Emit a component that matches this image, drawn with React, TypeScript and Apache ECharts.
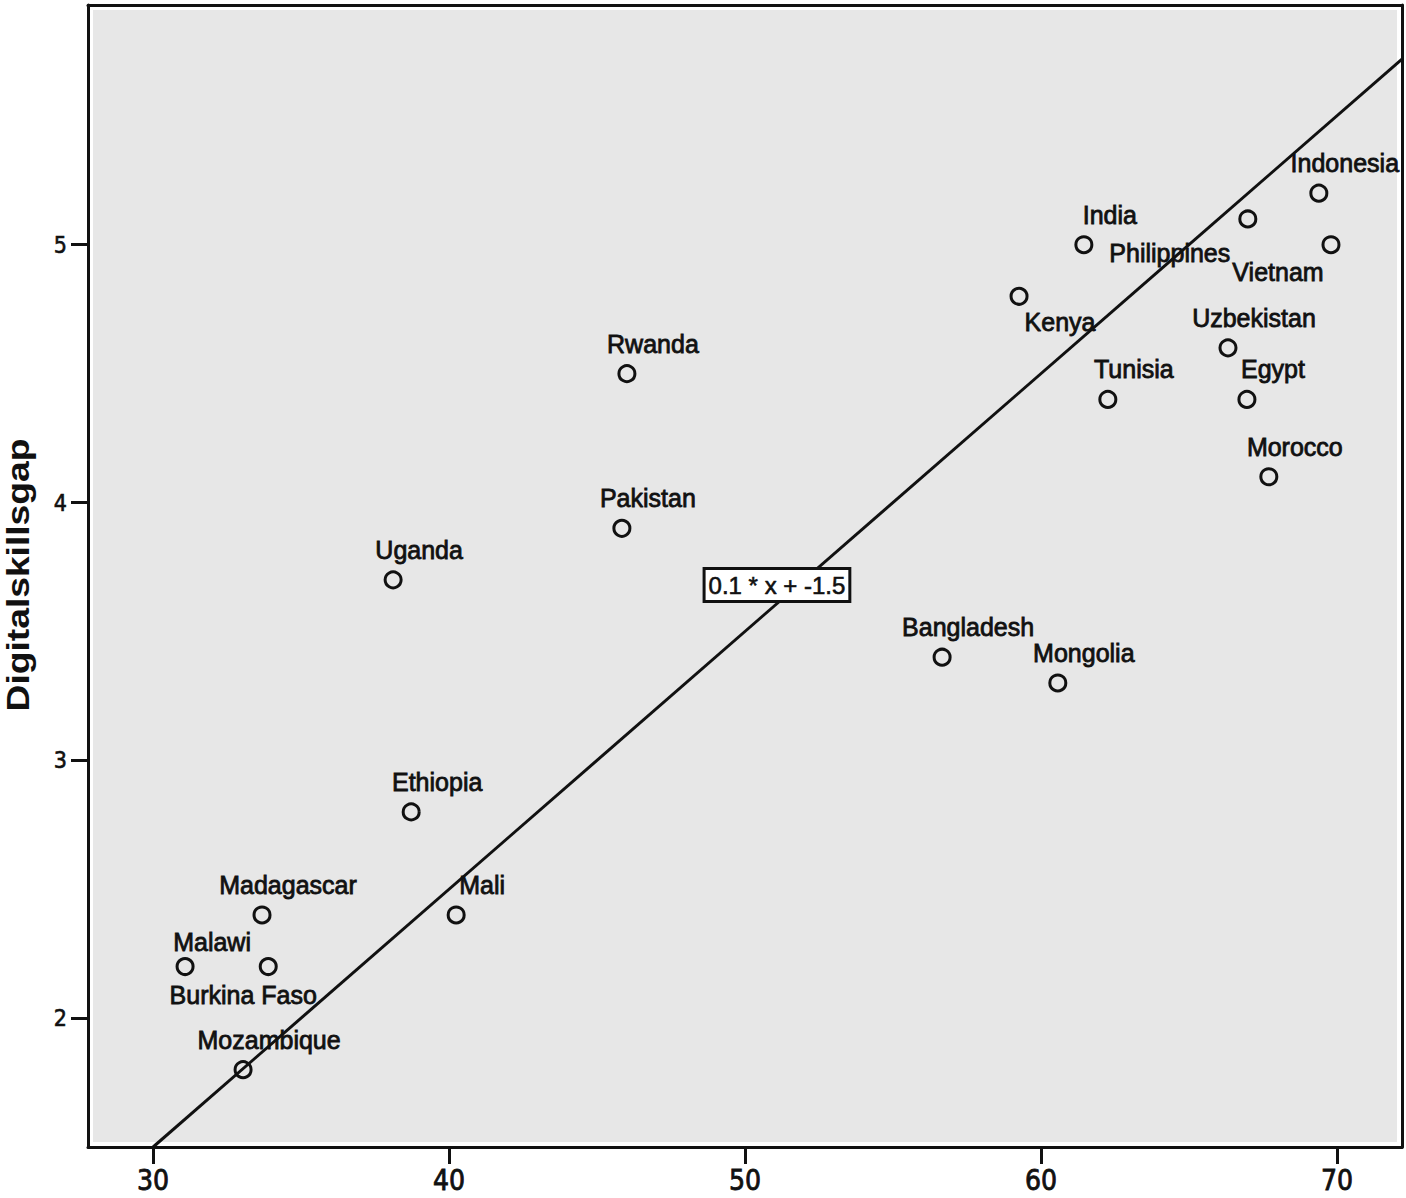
import React, { useEffect, useRef } from 'react';
import * as echarts from 'echarts';

// ---- data ----
const countries = [
  'Mozambique', 'Malawi', 'Burkina Faso', 'Madagascar', 'Mali', 'Ethiopia', 'Uganda',
  'Pakistan', 'Rwanda', 'Bangladesh', 'Mongolia', 'Kenya', 'India', 'Tunisia',
  'Philippines', 'Indonesia', 'Vietnam', 'Uzbekistan', 'Egypt', 'Morocco',
];
const xValues = [
  33.04, 31.08, 33.89, 33.68, 40.24, 38.72, 38.11,
  45.84, 46.01, 56.66, 60.57, 59.26, 61.45, 62.26,
  66.99, 69.39, 69.8, 66.32, 66.96, 67.7,
];
const yValues = [
  1.8, 2.2, 2.2, 2.4, 2.4, 2.8, 3.7,
  3.9, 4.5, 3.4, 3.3, 4.8, 5.0, 4.4,
  5.1, 5.2, 5.0, 4.6, 4.4, 4.1,
];
const xTicks = [30, 40, 50, 60, 70];
const yTicks = [2, 3, 4, 5];
const SLOPE = 0.1;
const INTERCEPT = -1.5;
const FIT_START_X = 30;
const EQUATION_TEXT = '0.1 * x + -1.5';
const EQUATION_AT = [51.08, 3.68];
const Y_NAME = 'Digitalskillsgap';

// ---- layout / style ----
const X_MIN = 27.8;
const X_MAX = 72.2;
const Y_MIN = 1.5;
const Y_MAX = 5.93;
const DEFAULT_OFFSET = [26, -30];
const labelOffsets: Record<string, number[]> = {
  Philippines: [-78, 34],
  Vietnam: [-53, 27],
  Kenya: [41, 26],
  'Burkina Faso': [-25, 28],
  Malawi: [27, -25],
};
const INK = '#111';
const SANS = "'Liberation Sans', Arial, sans-serif";
const NARROW = "'Liberation Sans Narrow', 'Arial Narrow', 'DejaVu Sans Condensed', sans-serif";

export default function App() {
  const ref = useRef<HTMLDivElement>(null);
  useEffect(() => {
    const chart = echarts.init(ref.current!, null, { renderer: 'svg' });
    const frameLine = { show: true, onZero: false, lineStyle: { color: INK, width: 3 } };
    const option: any = {
      animation: false,
      backgroundColor: '#fff',
      grid: {
        left: 88, right: 4, top: 5, bottom: 51,
        show: true, backgroundColor: '#e7e7e7', borderColor: '#fff', borderWidth: 10,
      },
      xAxis: [
        {
          type: 'value', min: X_MIN, max: X_MAX, position: 'bottom',
          axisLine: frameLine,
          axisTick: { show: true, length: 17, customValues: xTicks, lineStyle: { color: INK, width: 3 } },
          axisLabel: {
            customValues: xTicks, margin: 19, fontSize: 28, fontFamily: NARROW, color: INK,
            textBorderColor: INK, textBorderWidth: 0.8,
          },
          splitLine: { show: false },
        },
        {
          type: 'value', min: X_MIN, max: X_MAX, position: 'top',
          axisLine: frameLine, axisTick: { show: false }, axisLabel: { show: false }, splitLine: { show: false },
        },
      ],
      yAxis: [
        {
          type: 'value', min: Y_MIN, max: Y_MAX, position: 'left',
          axisLine: frameLine,
          axisTick: { show: true, length: 17, customValues: yTicks, lineStyle: { color: INK, width: 3 } },
          axisLabel: {
            customValues: yTicks, margin: 21, fontSize: 23, fontFamily: NARROW, color: INK,
            textBorderColor: INK, textBorderWidth: 0.6,
          },
          splitLine: { show: false },
        },
        {
          type: 'value', min: Y_MIN, max: Y_MAX, position: 'right',
          axisLine: frameLine, axisTick: { show: false }, axisLabel: { show: false }, splitLine: { show: false },
        },
      ],
      graphic: [
        {
          type: 'text', x: 18, y: 575, rotation: Math.PI / 2, scaleX: 1.2,
          style: {
            text: Y_NAME, fontSize: 31, fontWeight: 'bold', fontFamily: SANS, fill: INK,
            align: 'center', verticalAlign: 'middle',
          },
        },
      ],
      series: [
        {
          type: 'scatter', xAxisIndex: 0, yAxisIndex: 0, z: 2, silent: true,
          symbol: 'circle', symbolSize: 16,
          itemStyle: { color: 'rgba(0,0,0,0)', borderColor: INK, borderWidth: 3, opacity: 1 },
          label: {
            show: true, position: 'inside', formatter: '{b}', fontSize: 25, fontFamily: SANS,
            color: INK, align: 'center', verticalAlign: 'middle',
            textBorderColor: INK, textBorderWidth: 0.8,
          },
          emphasis: { disabled: true },
          data: countries.map((c, i) => ({
            name: c,
            value: [xValues[i], yValues[i]],
            label: { offset: labelOffsets[c] || DEFAULT_OFFSET },
          })),
        },
        {
          type: 'line', xAxisIndex: 0, yAxisIndex: 0, z: 5, silent: true,
          symbol: 'none',
          lineStyle: { color: INK, width: 3 },
          data: [
            [FIT_START_X, SLOPE * FIT_START_X + INTERCEPT],
            [X_MAX, SLOPE * X_MAX + INTERCEPT],
          ],
        },
        {
          type: 'scatter', xAxisIndex: 0, yAxisIndex: 0, z: 10, silent: true,
          symbolSize: 0,
          itemStyle: { opacity: 1 },
          label: {
            show: true, position: 'inside', formatter: '{b}', fontSize: 24, fontFamily: SANS,
            color: INK, backgroundColor: '#fff', borderColor: INK, borderWidth: 3,
            textBorderColor: INK, textBorderWidth: 0.6,
            padding: [4, 3, 2, 3],
          },
          emphasis: { disabled: true },
          data: [{ name: EQUATION_TEXT, value: EQUATION_AT }],
        },
      ],
    };
    chart.setOption(option);
    return () => chart.dispose();
  }, []);
  return <div ref={ref} style={{ position: 'absolute', left: 0, top: 0, width: 1406, height: 1198 }} />;
}
